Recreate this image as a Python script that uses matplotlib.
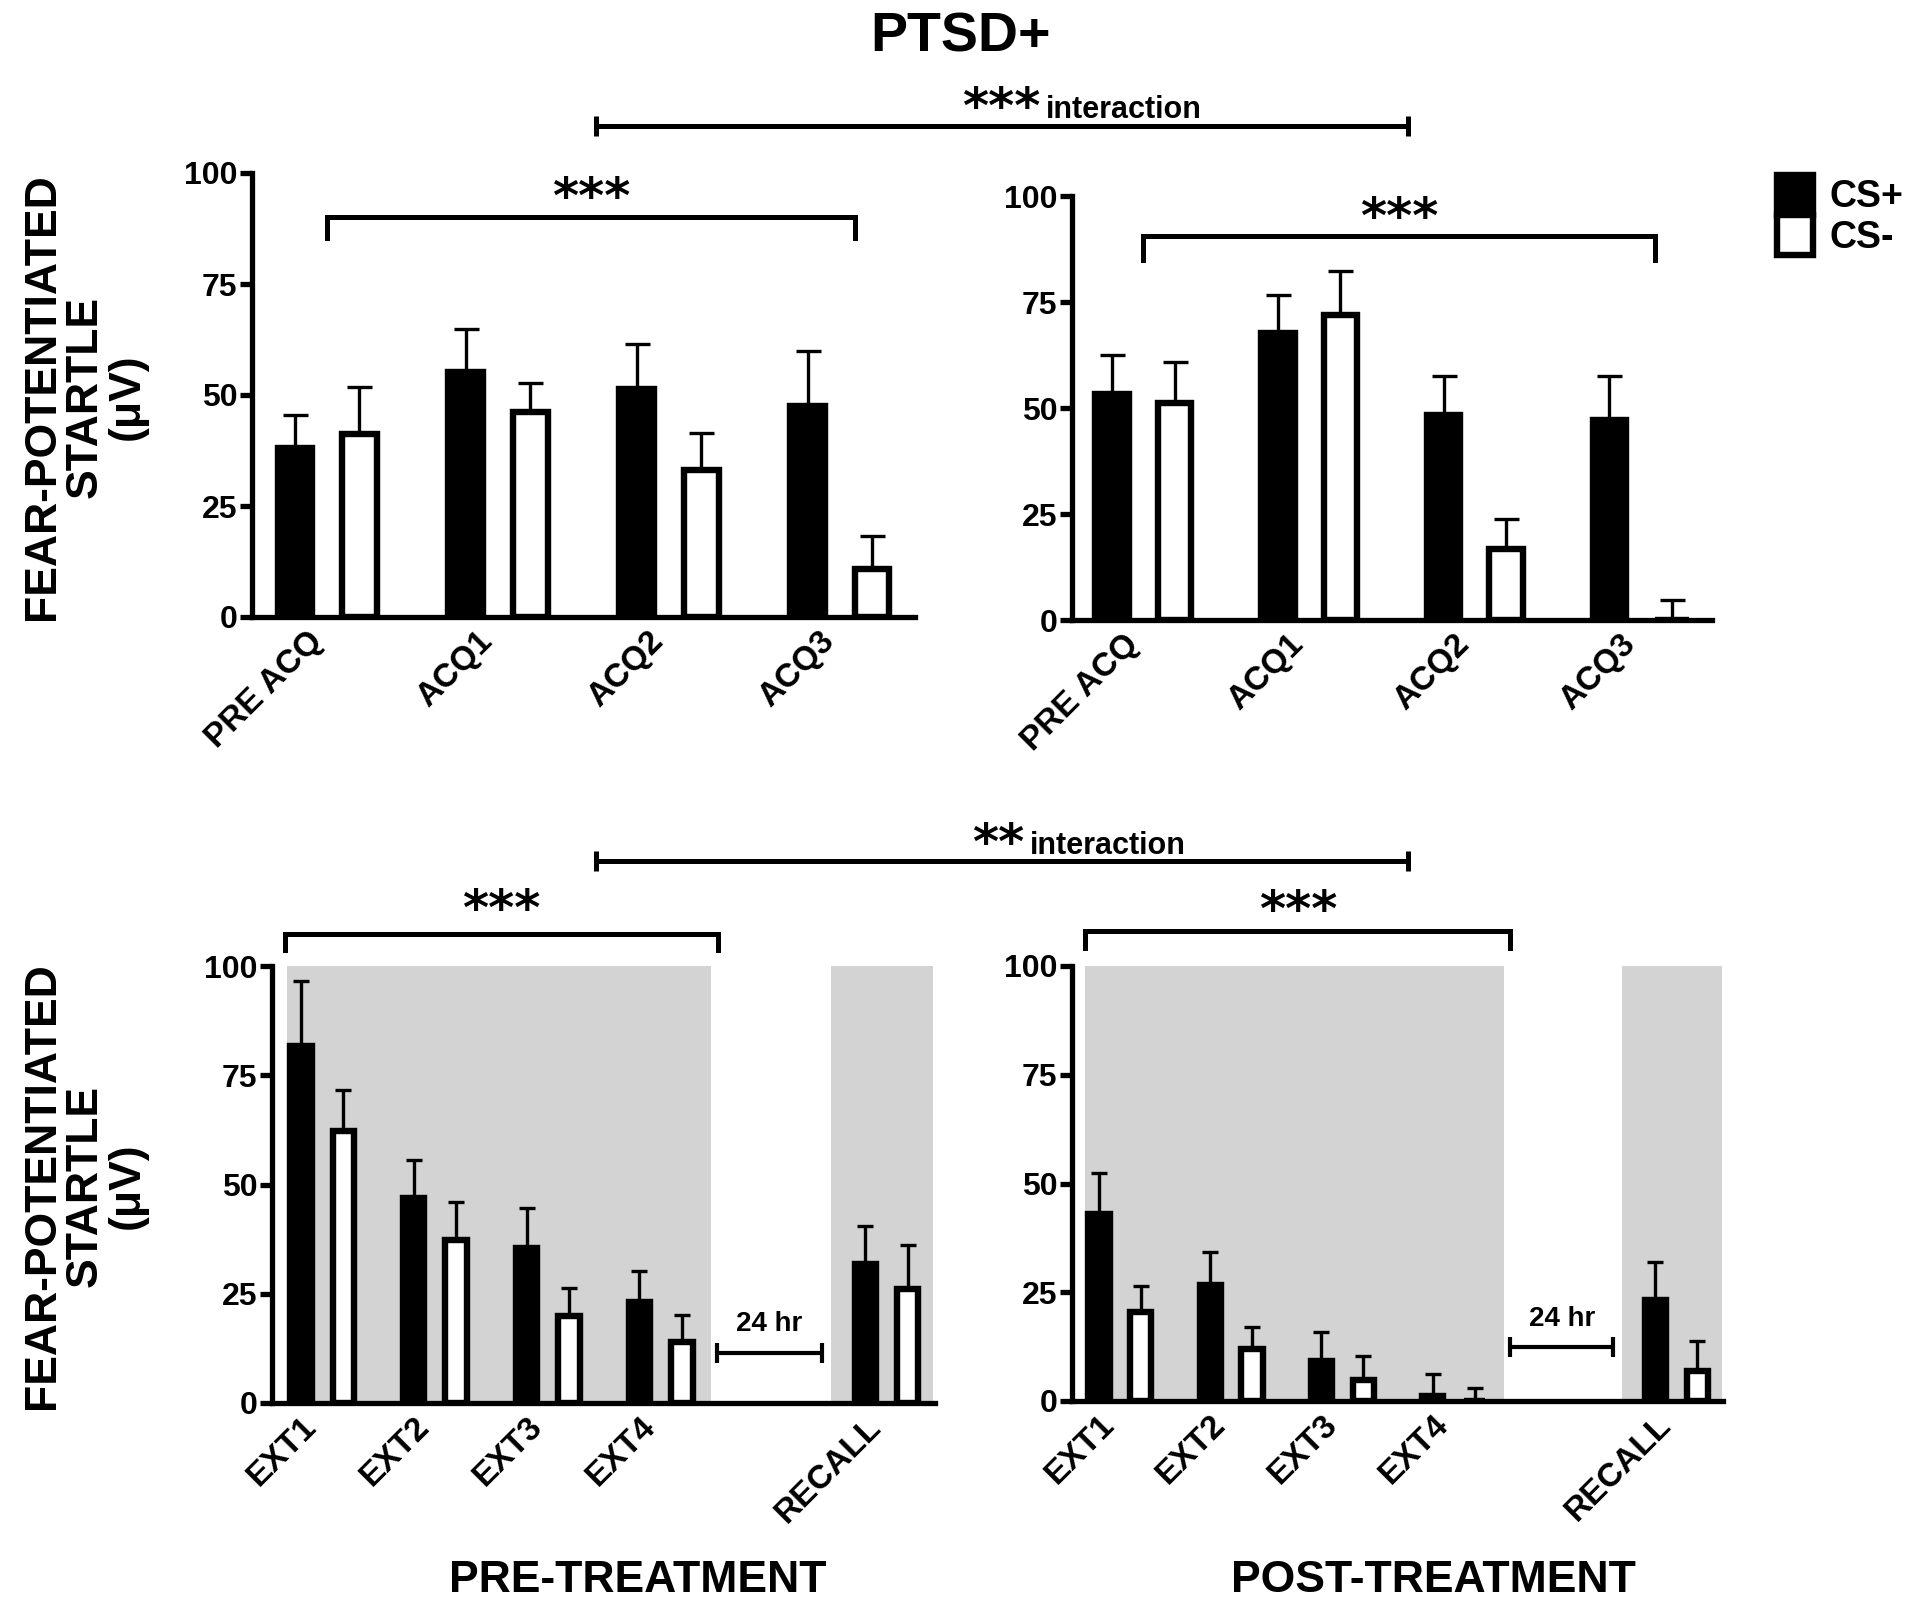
import numpy as np
import matplotlib.pyplot as plt
from matplotlib.transforms import ScaledTranslation

plt.rcParams['font.family'] = ['Liberation Sans', 'DejaVu Sans']
plt.rcParams['font.weight'] = 'bold'

# ---- data ----
acq_labels = ["PRE ACQ", "ACQ1", "ACQ2", "ACQ3"]
ext_labels = ["EXT1", "EXT2", "EXT3", "EXT4", "RECALL"]

pre_acq_csp = [38.1, 55.2, 51.4, 47.6]
pre_acq_csp_err = [7.5, 9.7, 10.1, 12.4]
pre_acq_csm = [41.3, 46.2, 33.2, 10.8]
pre_acq_csm_err = [10.4, 6.4, 8.2, 7.4]

post_acq_csp = [53.3, 67.7, 48.4, 47.2]
post_acq_csp_err = [9.3, 9.0, 9.2, 10.4]
post_acq_csm = [51.1, 71.9, 16.7, 0.0]
post_acq_csm_err = [9.8, 10.4, 7.1, 4.8]

pre_ext_csp = [81.8, 46.8, 35.5, 23.0, 31.7]
pre_ext_csp_err = [14.7, 8.7, 9.1, 7.2, 8.8]
pre_ext_csm = [62.2, 37.2, 19.8, 14.0, 26.0]
pre_ext_csm_err = [9.5, 8.8, 6.6, 6.2, 10.1]

post_ext_csp = [43.0, 26.7, 9.1, 1.2, 23.3]
post_ext_csp_err = [9.3, 7.5, 6.7, 5.0, 8.6]
post_ext_csm = [20.4, 11.9, 4.8, 0.0, 6.8]
post_ext_csm_err = [6.1, 5.0, 5.5, 3.1, 7.0]

# ---- layout ----
W, H = 1920, 1607
fig = plt.figure(figsize=(W / 100, H / 100), dpi=100)

ov = fig.add_axes([0, 0, 1, 1])
ov.set_xlim(0, W)
ov.set_ylim(H, 0)
ov.axis('off')


def px_axes(l, t, r, b):
    return fig.add_axes([l / W, 1 - b / H, (r - l) / W, (b - t) / H])


def style(ax, labels, x, xlim):
    ax.set_xlim(*xlim)
    ax.set_ylim(0, 100)
    ax.set_yticks([0, 25, 50, 75, 100])
    for s in ['top', 'right']:
        ax.spines[s].set_visible(False)
    for s in ['left', 'bottom']:
        ax.spines[s].set_linewidth(3.8)
    ax.tick_params(axis='y', length=8.5, width=3.8, labelsize=23, pad=2)
    ax.tick_params(axis='x', length=0, labelsize=24, pad=14)
    ax.set_xticks(x)
    ax.set_xticklabels(labels, rotation=45, ha='right', va='center',
                       rotation_mode='anchor')
    shift = ScaledTranslation(-10 / 100, 0, fig.dpi_scale_trans)
    for lab in ax.get_xticklabels():
        lab.set_transform(lab.get_transform() + shift)


def draw_pairs(ax, x, csp, csp_err, csm, csm_err, width, off, cap):
    x = np.asarray(x, dtype=float)
    z = np.zeros(len(x))
    ax.errorbar(x - off, csp, yerr=[z, csp_err], fmt='none', ecolor='black',
                elinewidth=2.4, capsize=cap, capthick=2.4, zorder=2, clip_on=False)
    ax.errorbar(x + off, csm, yerr=[z, csm_err], fmt='none', ecolor='black',
                elinewidth=2.4, capsize=cap, capthick=2.4, zorder=2, clip_on=False)
    b1 = ax.bar(x - off, csp, width, color='black', edgecolor='black',
                linewidth=4.6, zorder=3)
    b2 = ax.bar(x + off, csm, width, color='white', edgecolor='black',
                linewidth=4.6, zorder=3)
    return b1, b2


def bracket(ax, x0, x1, y_top, y_leg, stars, y_star):
    ax.plot([x0, x0, x1, x1], [y_leg, y_top, y_top, y_leg], color='black',
            lw=3.6, clip_on=False, solid_joinstyle='miter')
    ax.text((x0 + x1) / 2, y_star, stars, ha='center', va='center',
            fontsize=36, family='DejaVu Sans', fontweight='bold')


def gap_marker(ax, x0, x1, y):
    ax.errorbar([(x0 + x1) / 2], [y], xerr=[(x1 - x0) / 2], fmt='none',
                ecolor='black', elinewidth=3, capsize=7, capthick=3)
    ax.text((x0 + x1) / 2, y + 3.6, "24 hr", ha='center', va='bottom', fontsize=20)


x_acq = np.arange(len(acq_labels))
x_ext = np.array([0, 1, 2, 3, 5])

# top left
ax1 = px_axes(252, 173, 915, 617)
b1, b2 = draw_pairs(ax1, x_acq, pre_acq_csp, pre_acq_csp_err, pre_acq_csm,
                    pre_acq_csm_err, 0.203, 0.189, 9)
style(ax1, acq_labels, x_acq, (-0.44, 3.44))
bracket(ax1, 0, 3.09, 90.2, 85.4, "***", 94.2)

# top right
ax2 = px_axes(1072, 196, 1712, 620)
draw_pairs(ax2, x_acq, post_acq_csp, post_acq_csp_err, post_acq_csm,
           post_acq_csm_err, 0.203, 0.189, 9)
style(ax2, acq_labels, x_acq, (-0.43, 3.43))
bracket(ax2, 0, 3.085, 90.5, 85.0, "***", 94.5)

# bottom left
ax3 = px_axes(272, 966, 935, 1403)
ax3.axvspan(-0.31, 3.45, color='#d3d3d3', lw=0, zorder=0)
ax3.axvspan(4.51, 5.41, color='#d3d3d3', lw=0, zorder=0)
draw_pairs(ax3, x_ext, pre_ext_csp, pre_ext_csp_err, pre_ext_csm,
           pre_ext_csm_err, 0.19, 0.188, 6)
style(ax3, ext_labels, x_ext, (-0.443, 5.43))
bracket(ax3, -0.33, 3.51, 107.4, 103.6, "***", 112.5)
gap_marker(ax3, 3.5, 4.43, 11.5)

# bottom right
ax4 = px_axes(1072, 966, 1723, 1401)
ax4.axvspan(-0.31, 3.45, color='#d3d3d3', lw=0, zorder=0)
ax4.axvspan(4.51, 5.41, color='#d3d3d3', lw=0, zorder=0)
draw_pairs(ax4, x_ext, post_ext_csp, post_ext_csp_err, post_ext_csm,
           post_ext_csm_err, 0.19, 0.188, 6)
style(ax4, ext_labels, x_ext, (-0.43, 5.42))
bracket(ax4, -0.31, 3.51, 108.0, 104.1, "***", 112.5)
gap_marker(ax4, 3.51, 4.43, 12.3)

# figure-level text and interaction brackets
ov.text(961, 37, "PTSD+", ha='center', va='center', fontsize=40)
for yc in (397, 1186):
    ov.text(85, yc, "FEAR-POTENTIATED\nSTARTLE\n(\u03bcV)", rotation=90,
            ha='center', va='center', multialignment='center',
            fontsize=32, linespacing=1.05)
ov.text(638, 1580, "PRE-TREATMENT", ha='center', va='center', fontsize=32)
ov.text(1433, 1580, "POST-TREATMENT", ha='center', va='center', fontsize=32)

for y, stars, ys, xs in ((126, "***", 109, 1040), (861, "**", 845, 1024)):
    ov.errorbar([1002], [y], xerr=[406], fmt='none', ecolor='black',
                elinewidth=3.6, capsize=7, capthick=3.6)
    ov.text(xs, ys, stars, ha='right', va='center', fontsize=36,
            family='DejaVu Sans', fontweight='bold')
    ov.text(xs + 6, ys + 1, "interaction", ha='left', va='center', fontsize=22)

fig.legend(handles=[b1, b2], labels=["CS+", "CS-"], loc='upper left',
           bbox_to_anchor=(1777 / W, 1 - 175 / H), fontsize=27,
           handlelength=0.95, handleheight=1.25, labelspacing=0,
           handletextpad=0.45, borderpad=0, borderaxespad=0, frameon=False)

fig.savefig("out.png", dpi=100)
